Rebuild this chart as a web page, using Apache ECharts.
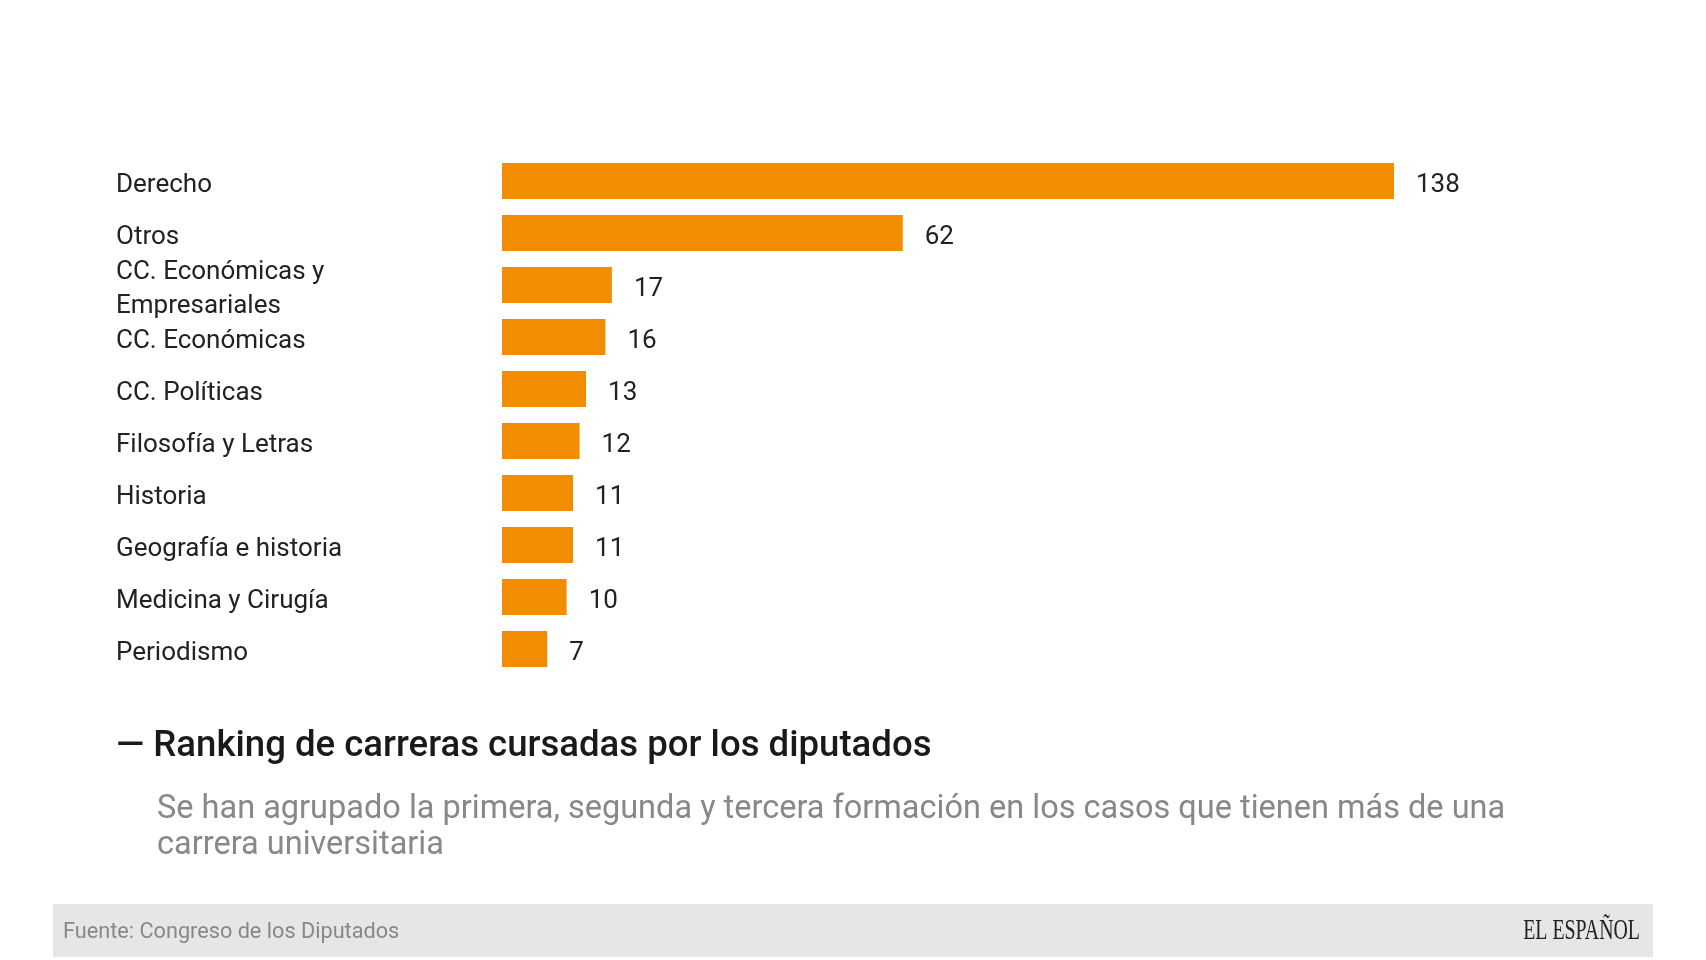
<!DOCTYPE html>
<html>
<head>
<meta charset="utf-8">
<title>Ranking de carreras cursadas por los diputados</title>
<script src="https://cdn.jsdelivr.net/npm/echarts@6/dist/echarts.min.js"></script>
<style>
  html, body { margin: 0; padding: 0; background: #fff; }
  #main { width: 1706px; height: 960px; }
</style>
</head>
<body>
<div id="main"></div>
<script>
// categories, top to bottom
var carreras = ['Derecho', 'Otros', 'CC. Económicas y\nEmpresariales', 'CC. Económicas', 'CC. Políticas',
  'Filosofía y Letras', 'Historia', 'Geografía e historia', 'Medicina y Cirugía', 'Periodismo'];
var diputados = [138, 62, 17, 16, 13, 12, 11, 11, 10, 7];

var titulo = '— Ranking de carreras cursadas por los diputados';
var subtitulo = 'Se han agrupado la primera, segunda y tercera formación en los casos que tienen más de una\ncarrera universitaria';
var fuente = 'Fuente: Congreso de los Diputados';

(function () {
  var chart = echarts.init(document.getElementById('main'));
  var font = 'Roboto, "Noto Sans", sans-serif';

  // los textos van algo por debajo del centro de la barra
  var textoFila = {
    color: '#222',
    fontFamily: font,
    fontSize: 26,
    lineHeight: 34,
    padding: [9, 0, 0, 0]
  };

  var option = {
    backgroundColor: '#fff',
    animation: false,
    grid: { left: 502, right: 312, top: 155, height: 520, containLabel: false },
    xAxis: {
      type: 'value',
      min: 0,
      max: Math.max.apply(null, diputados),
      show: false
    },
    yAxis: {
      type: 'category',
      data: carreras,
      inverse: true,
      axisLine: { show: false },
      axisTick: { show: false },
      splitLine: { show: false },
      axisLabel: {
        align: 'left',
        margin: 386,
        formatter: function (v) { return '{t|' + v + '}'; },
        rich: { t: textoFila }
      }
    },
    series: [{
      type: 'bar',
      data: diputados,
      barWidth: 36,
      itemStyle: { color: '#f28c00' },
      label: {
        show: true,
        position: 'right',
        distance: 22,
        formatter: '{t|{c}}',
        rich: { t: textoFila }
      }
    }],
    graphic: [
      {
        type: 'text', x: 116, y: 747,
        style: { text: titulo, fill: '#1a1a1a', font: '500 36.6px ' + font, verticalAlign: 'middle' }
      },
      {
        type: 'text', x: 157, y: 828,
        style: { text: subtitulo, fill: '#888', font: '32.5px ' + font, lineHeight: 36, verticalAlign: 'middle' }
      },
      {
        type: 'rect', shape: { x: 53, y: 904, width: 1600, height: 53 },
        style: { fill: '#e6e6e6' }
      },
      {
        type: 'text', x: 63, y: 933,
        style: { text: fuente, fill: '#888', font: '21.7px ' + font, verticalAlign: 'middle' }
      },
      {
        type: 'text', x: 1640, y: 931, scaleX: 0.685,
        style: {
          text: 'EL ESPAÑOL', fill: '#222', font: '29px "Liberation Serif", "DejaVu Serif", serif',
          align: 'right', verticalAlign: 'middle'
        }
      }
    ]
  };

  chart.setOption(option);
  window.addEventListener('resize', function () {
    chart.resize();
  });
})();
</script>
</body>
</html>
